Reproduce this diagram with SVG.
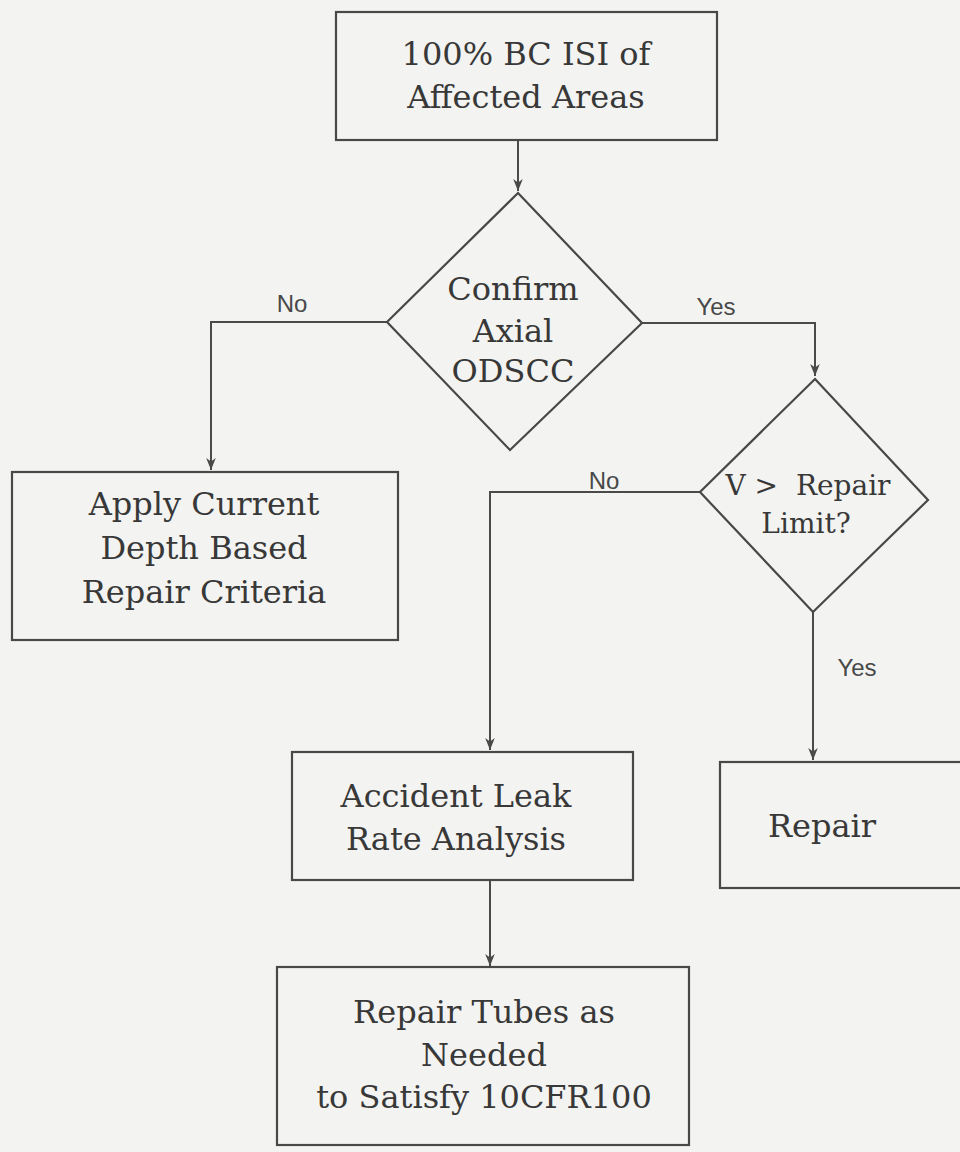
<svg xmlns="http://www.w3.org/2000/svg" width="960" height="1152" viewBox="0 0 960 1152">
<defs>
<style>
.box{fill:none;stroke:#484848;stroke-width:2.2}
.conn{fill:none;stroke:#4a4a4a;stroke-width:2}
.t{font-family:"DejaVu Serif","Liberation Serif",serif;font-size:32px;fill:#383838;text-anchor:middle}
.ts{font-size:28px}
.lbl{font-family:"Liberation Sans",Arial,sans-serif;font-size:24px;fill:#484848;text-anchor:middle}
</style>
<marker id="arr" viewBox="0 0 10 10" refX="10" refY="5" markerWidth="12" markerHeight="12" markerUnits="userSpaceOnUse" orient="auto">
<path d="M0,1 L10,5 L0,9 L3,5 Z" fill="#4a4a4a"/>
</marker>
</defs>
<rect width="960" height="1152" fill="#f3f3f1"/>
<g id="connectors">
<path class="conn" d="M518,140 L518,191" marker-end="url(#arr)"/>
<path class="conn" d="M387,322 L211,322 L211,470" marker-end="url(#arr)"/>
<path class="conn" d="M642,323 L815,323 L815,376" marker-end="url(#arr)"/>
<path class="conn" d="M700,492 L490,492 L490,750" marker-end="url(#arr)"/>
<path class="conn" d="M813,612 L813,760" marker-end="url(#arr)"/>
<path class="conn" d="M490,880 L490,966" marker-end="url(#arr)"/>
<text class="lbl" x="292" y="312">No</text>
<text class="lbl" x="716" y="315">Yes</text>
<text class="lbl" x="604" y="489">No</text>
<text class="lbl" x="857" y="676">Yes</text>
</g>
<g id="n-isi">
<rect class="box" x="336" y="12" width="381" height="128"/>
<text class="t" x="526" y="65">100% BC ISI of</text>
<text class="t" x="526" y="108">Affected Areas</text>
</g>
<g id="n-confirm">
<path class="box" d="M518,193 L642,323 L510,450 L387,322 Z"/>
<text class="t" x="513" y="300">Confirm</text>
<text class="t" x="513" y="342">Axial</text>
<text class="t" x="513" y="382">ODSCC</text>
</g>
<g id="n-limit">
<path class="box" d="M815,379 L928,500 L813,612 L700,492 Z"/>
<text class="t ts" x="808" y="495" xml:space="preserve">V &gt;  Repair</text>
<text class="t ts" x="806" y="533">Limit?</text>
</g>
<g id="n-apply">
<rect class="box" x="12" y="472" width="386" height="168"/>
<text class="t" x="204" y="515">Apply Current</text>
<text class="t" x="204" y="559">Depth Based</text>
<text class="t" x="204" y="603">Repair Criteria</text>
</g>
<g id="n-leak">
<rect class="box" x="292" y="752" width="341" height="128"/>
<text class="t" x="456" y="807">Accident Leak</text>
<text class="t" x="456" y="850">Rate Analysis</text>
</g>
<g id="n-repair">
<rect class="box" x="720" y="762" width="250" height="126"/>
<text class="t" x="822" y="837">Repair</text>
</g>
<g id="n-tubes">
<rect class="box" x="277" y="967" width="412" height="178"/>
<text class="t" x="484" y="1023">Repair Tubes as</text>
<text class="t" x="484" y="1066">Needed</text>
<text class="t" x="484" y="1108">to Satisfy 10CFR100</text>
</g>
</svg>
